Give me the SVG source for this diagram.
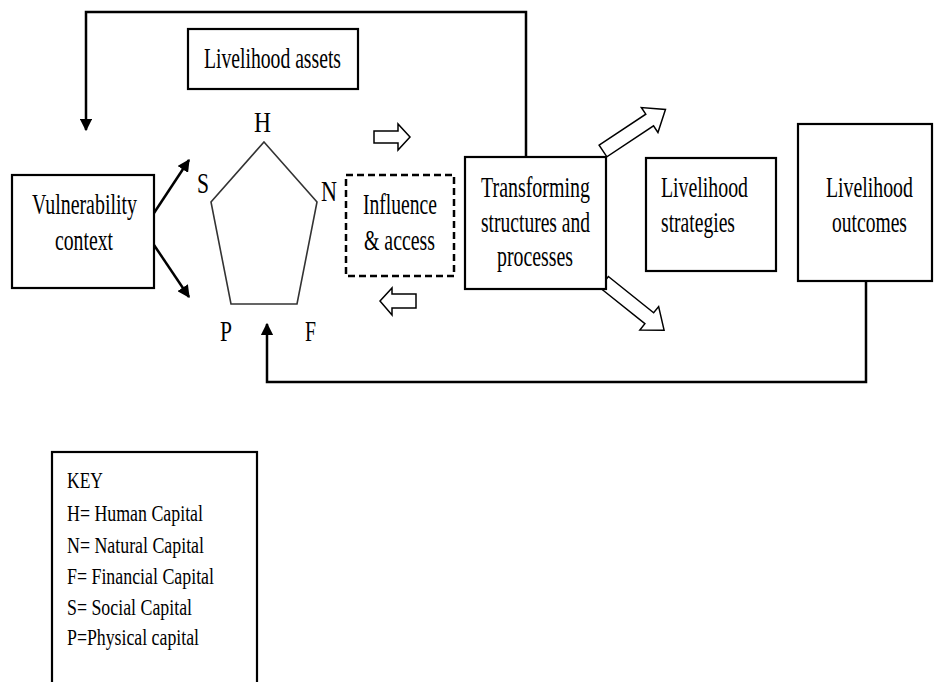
<svg xmlns="http://www.w3.org/2000/svg" width="934" height="682" viewBox="0 0 934 682">
<style>
.box{fill:#fff;stroke:#000;stroke-width:2.2}
.dash{fill:#fff;stroke:#000;stroke-width:2.5;stroke-dasharray:7 4}
.t{font-family:"Liberation Serif","Times New Roman",serif;font-size:30px;fill:#000}
.k{font-family:"Liberation Serif","Times New Roman",serif;font-size:24px;fill:#000}
.con{fill:none;stroke:#000;stroke-width:2.5}
.hol{fill:#fff;stroke:#000;stroke-width:1.5;stroke-linejoin:miter}
</style>
<defs>
<marker id="ah" viewBox="0 0 10 10" refX="9" refY="5" markerWidth="5" markerHeight="5" markerUnits="strokeWidth" orient="auto">
<path d="M0,0 L10,5 L0,10 Z" fill="#000"/>
</marker>
</defs>
<rect width="934" height="682" fill="#fff"/>

<g id="connectors">
<polyline class="con" points="526,157 526,12 86,12 86,130" marker-end="url(#ah)"/>
<polyline class="con" points="866,281 866,382 267,382 267,324" marker-end="url(#ah)"/>
<line class="con" x1="154" y1="213" x2="189" y2="160" marker-end="url(#ah)"/>
<line class="con" x1="154" y1="245" x2="189" y2="297" marker-end="url(#ah)"/>
<polygon class="hol" points="410,137 398,124 398,131 374,131 374,143 398,143 398,150"/>
<polygon class="hol" points="380,301 392,288 392,294 416,294 416,308 392,308 392,315"/>
<polygon class="hol" transform="translate(603,151) rotate(-33.6)" points="0,-7 56,-7 56,-15 75,0 56,15 56,7 0,7"/>
<polygon class="hol" transform="translate(604,282) rotate(38.7)" points="0,-7 58,-7 58,-15 77,0 58,15 58,7 0,7"/>
</g>

<g id="vulnerability">
<rect class="box" x="12" y="175" width="142" height="113"/>
<text class="t" x="32" y="214" textLength="105" lengthAdjust="spacingAndGlyphs">Vulnerability</text>
<text class="t" x="55" y="250" textLength="58" lengthAdjust="spacingAndGlyphs">context</text>
</g>

<g id="assets">
<rect class="box" x="188" y="29" width="170" height="60"/>
<text class="t" x="204" y="68" textLength="137" lengthAdjust="spacingAndGlyphs">Livelihood assets</text>
</g>

<g id="pentagon">
<polygon points="264,142 317,202 297,304 231,304 211,202" fill="none" stroke="#333" stroke-width="1.6"/>
<text class="t" x="254" y="132" textLength="17" lengthAdjust="spacingAndGlyphs">H</text>
<text class="t" x="197" y="193" textLength="12" lengthAdjust="spacingAndGlyphs">S</text>
<text class="t" x="321" y="201" textLength="16" lengthAdjust="spacingAndGlyphs">N</text>
<text class="t" x="220" y="341" textLength="12" lengthAdjust="spacingAndGlyphs">P</text>
<text class="t" x="305" y="341" textLength="11" lengthAdjust="spacingAndGlyphs">F</text>
</g>

<g id="influence">
<rect class="dash" x="346" y="175" width="108" height="101"/>
<text class="t" x="363" y="214" textLength="74" lengthAdjust="spacingAndGlyphs">Influence</text>
<text class="t" x="364" y="250" textLength="71" lengthAdjust="spacingAndGlyphs">&amp; access</text>
</g>

<g id="transforming">
<rect class="box" x="465" y="157" width="141" height="132"/>
<text class="t" x="481" y="197" textLength="109" lengthAdjust="spacingAndGlyphs">Transforming</text>
<text class="t" x="481" y="232" textLength="109" lengthAdjust="spacingAndGlyphs">structures and</text>
<text class="t" x="497" y="266" textLength="76" lengthAdjust="spacingAndGlyphs">processes</text>
</g>

<g id="strategies">
<rect class="box" x="646" y="158" width="130" height="113"/>
<text class="t" x="661" y="197" textLength="87" lengthAdjust="spacingAndGlyphs">Livelihood</text>
<text class="t" x="661" y="232" textLength="74" lengthAdjust="spacingAndGlyphs">strategies</text>
</g>

<g id="outcomes">
<rect class="box" x="798" y="124" width="134" height="157"/>
<text class="t" transform="translate(826,197) scale(0.66,1)" x="0" y="0">Livelihood</text>
<text class="t" transform="translate(832,232) scale(0.652,1)" x="0" y="0">outcomes</text>
</g>

<g id="key">
<rect class="box" x="52" y="452" width="205" height="240"/>
<text class="k" x="67" y="488" textLength="36" lengthAdjust="spacingAndGlyphs">KEY</text>
<text class="k" x="67" y="521" textLength="136" lengthAdjust="spacingAndGlyphs">H= Human Capital</text>
<text class="k" x="67" y="553" textLength="137" lengthAdjust="spacingAndGlyphs">N= Natural Capital</text>
<text class="k" x="67" y="584" textLength="147" lengthAdjust="spacingAndGlyphs">F= Financial Capital</text>
<text class="k" x="67" y="615" textLength="125" lengthAdjust="spacingAndGlyphs">S= Social Capital</text>
<text class="k" x="67" y="645" textLength="132" lengthAdjust="spacingAndGlyphs">P=Physical capital</text>
</g>
</svg>
